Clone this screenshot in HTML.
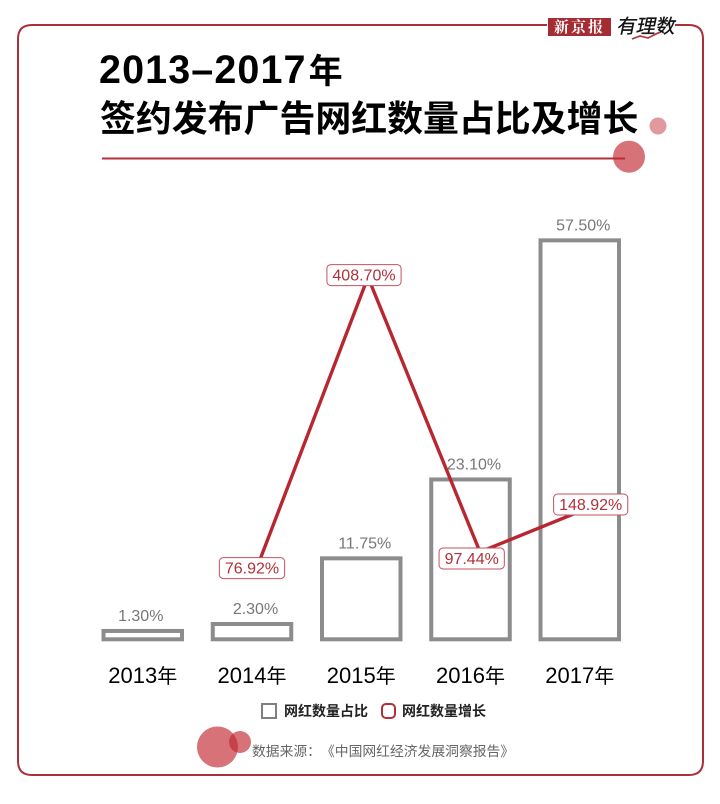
<!DOCTYPE html>
<html lang="zh">
<head>
<meta charset="utf-8">
<title>2013-2017年签约发布广告网红数量占比及增长</title>
<style>
html,body{margin:0;padding:0;background:#fff;width:720px;height:804px;overflow:hidden}
svg{display:block;font-family:"Liberation Sans","Noto Sans CJK SC",sans-serif;text-spacing-trim:space-all}
</style>
</head>
<body>
<svg id="chart" xmlns="http://www.w3.org/2000/svg" width="720" height="804" viewBox="0 0 720 804">
  <path d="M547 25H32Q18 25 18 39V761Q18 775 32 775H689Q703 775 703 761V39Q703 25 689 25H675" fill="none" stroke="#a92f38" stroke-width="2"/>
  <g>
    <rect x="548" y="18" width="63" height="18" fill="#a42d34"/>
    <text x="579.5" y="32" text-anchor="middle" font-size="15" font-weight="bold" fill="#fff" letter-spacing="2" style="font-family:'Noto Serif CJK SC',serif">新京报</text>
    <text transform="translate(616 33) skewX(-12)" font-size="19.5" fill="#111" stroke="#111" stroke-width=".3" style="font-family:'WenQuanYi Zen Hei',sans-serif">有理数</text>
    <path d="M632 39L640 36L648 38L660 32" fill="none" stroke="#b8303a" stroke-width="1.6"/>
  </g>
  <text x="99" y="83" font-weight="bold" fill="#000"><tspan font-size="39.5" letter-spacing="1.1">2013–2017</tspan><tspan font-size="34" dx="2">年</tspan></text>
  <text x="100" y="131" font-size="35.9" font-weight="bold" fill="#000">签约发布广告网红数量占比及增长</text>
  <line x1="102" y1="158.5" x2="625" y2="158.5" stroke="#b5303a" stroke-width="2"/>
  <circle cx="629" cy="156.7" r="16" fill="#c0272f" fill-opacity=".65"/>
  <circle cx="658" cy="126" r="8.5" fill="#c0272f" fill-opacity=".47"/>
  <g id="plot"></g>
  <g>
    <g>
      <rect x="262" y="704" width="14" height="14" fill="#fff" stroke="#808080" stroke-width="2"/>
      <text x="284" y="716" font-size="14" font-weight="bold" fill="#222">网红数量占比</text>
    </g>
    <g>
      <rect x="382" y="704" width="13" height="14" rx="4" fill="#fff" stroke="#b0303a" stroke-width="2"/>
      <text x="402" y="716" font-size="14" font-weight="bold" fill="#222">网红数量增长</text>
    </g>
  </g>
  <circle cx="217.5" cy="747" r="20.5" fill="#c0272f" fill-opacity=".65"/>
  <circle cx="240" cy="742" r="11" fill="#c0272f" fill-opacity=".65"/>
  <text x="252" y="756" font-size="13.8" fill="#666">数据来源：《中国网红经济发展洞察报告》</text>
</svg>
<script>
const categories = ['2013', '2014', '2015', '2016', '2017'];
const shareValues = [1.30, 2.30, 11.75, 23.10, 57.50];
const shareLabels = ['1.30%', '2.30%', '11.75%', '23.10%', '57.50%'];
const growthValues = [null, 76.92, 408.70, 97.44, 148.92];
const growthLabels = ['', '76.92%', '408.70%', '97.44%', '148.92%'];

const NS = 'http://www.w3.org/2000/svg';
const plot = document.getElementById('plot');
const barWidth = 78.5;

function xBarLeft(i) { return 103.5 + 109.25 * i; }
function xBarCenter(i) { return xBarLeft(i) + barWidth / 2; }
function yShare(v) { return 640 - 6.95 * v; }
function xGrowth(i) { return 144 + 112 * i; }
function yGrowth(v) { return 638 - 0.883 * v; }
function growthLabelDx(i) { return i === 3 ? -8.3 : (i === 4 ? -1.3 : -4); }
function growthLabelDy(v, i) { return i === 3 ? 6.5 : -2; }

function make(tag, attrs, text) {
  const el = document.createElementNS(NS, tag);
  for (const k in attrs) el.setAttribute(k, attrs[k]);
  if (text !== undefined) el.textContent = text;
  plot.appendChild(el);
  return el;
}

shareValues.forEach(function (v, i) {
  const top = yShare(v);
  const bar = make('rect', {
    x: xBarLeft(i), y: top, width: barWidth, height: yShare(0) - 0.7 - top,
    fill: '#fff', stroke: '#8c8c8c', 'stroke-width': 4
  });
  
  

  const label = make('text', {
    x: xBarCenter(i) + (i === 0 ? -2 : 3.5), y: top - 10,
    'text-anchor': 'middle', 'font-size': 16, fill: '#777'
  }, shareLabels[i]);
  
  

  const tick = make('text', {
    x: xBarCenter(i), y: 683, 'text-anchor': 'middle', fill: '#000', 'font-size': 22
  });
  
  
  const digits = document.createElementNS(NS, 'tspan');
  digits.textContent = categories[i];
  tick.appendChild(digits);
  const unit = document.createElementNS(NS, 'tspan');
  unit.setAttribute('font-size', '20');
  unit.textContent = '年';
  tick.appendChild(unit);
});

const points = [];
growthValues.forEach(function (v, i) {
  if (v !== null) points.push(xGrowth(i) + ',' + yGrowth(v));
});
const line = make('polyline', {
  points: points.join(' '), fill: 'none', stroke: '#b8272f',
  'stroke-width': 3.4, 'stroke-linejoin': 'miter'
});



growthValues.forEach(function (v, i) {
  if (v === null) return;
  const cx = xGrowth(i) + growthLabelDx(i);
  const cy = yGrowth(v) + growthLabelDy(v, i);
  const box = make('rect', {
    y: cy - 10.5, height: 21, rx: 4, fill: '#fff', stroke: '#c4525c', 'stroke-width': 1
  });
  
  
  const txt = make('text', {
    x: cx, y: cy + 5.6, 'text-anchor': 'middle', 'font-size': 16, fill: '#b0303a'
  }, growthLabels[i]);
  
  
  const w = txt.getComputedTextLength() + 11;
  box.setAttribute('x', cx - w / 2);
  box.setAttribute('width', w);
});
</script>
</body>
</html>
